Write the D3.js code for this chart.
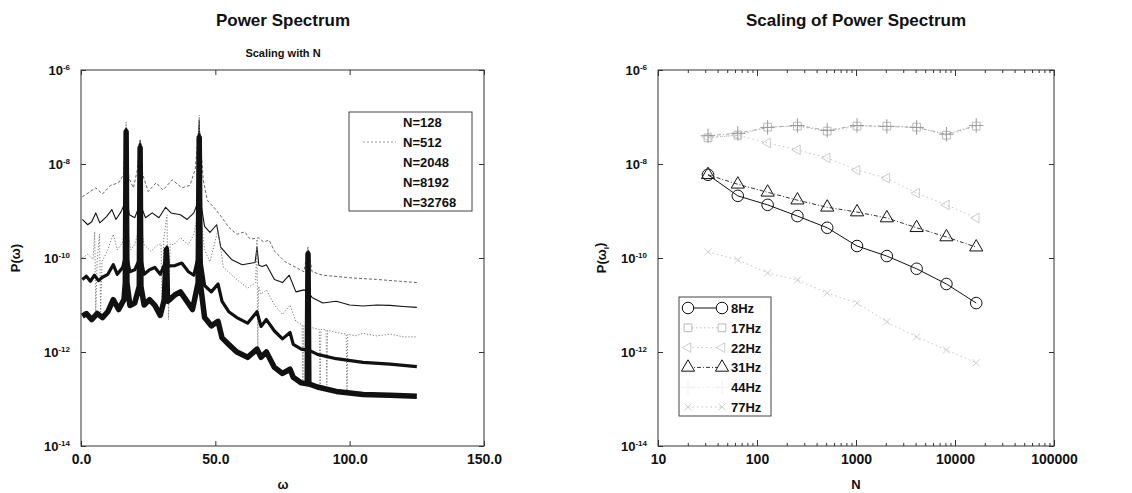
<!DOCTYPE html>
<html>
<head>
<meta charset="utf-8">
<script src="https://cdn.jsdelivr.net/npm/d3@7"></script>
<style>
  body { margin: 0; background: #fff; }
  text { font-family: "Liberation Sans", Arial, Helvetica, sans-serif; font-weight: bold; fill: #111; }
</style>
</head>
<body>
<svg id="chart" width="1132" height="493"></svg>
<script>
// ---- left panel: spectra, [omega, P(omega)] ----
const specN128 = [[0.5,2.0e-9],[3,2.5e-9],[5.5,3.1e-9],[8,2.3e-9],[11,3.5e-9],[14,4.0e-9],[15.8,5.9e-9],[16.8,5.4e-8],[17.8,5.1e-9],[19.5,3.1e-9],[21,7.6e-9],[22,2.6e-8],[23,5.9e-9],[25,2.6e-9],[28,4.0e-9],[30.5,2.8e-9],[34,4.6e-9],[37.5,3.1e-9],[40.5,3.5e-9],[42.5,7.6e-9],[44,6.8e-8],[45.5,4.6e-9],[47,1.7e-9],[50,1.1e-9],[52.5,7.2e-10],[55,4.5e-10],[58,3.2e-10],[61,3.6e-10],[63,2.5e-10],[66,2.7e-10],[68,2.2e-10],[70,2.4e-10],[72,1.4e-10],[76,8.3e-11],[80,6.3e-11],[83,5.1e-11],[84.5,1.7e-10],[86,5.1e-11],[90,4.3e-11],[100,3.8e-11],[110,3.5e-11],[125,3.0e-11]];
const specN512 = [[0.5,6.6e-10],[2.5,5.1e-10],[4,5.9e-10],[5.5,9.1e-10],[7,5.6e-10],[9.5,7.6e-10],[11.5,1.07e-9],[13,6.6e-10],[15,9.8e-10],[16.3,1.5e-9],[16.8,5.9e-8],[17.3,1.5e-9],[18,8.3e-10],[20,7.2e-10],[21.5,1.2e-9],[22,3.2e-8],[22.5,1.2e-9],[24,7.2e-10],[26.5,9.1e-10],[29,7.2e-10],[31.5,1.2e-9],[33.5,9.1e-10],[37,8.3e-10],[39.5,6.6e-10],[42,9.1e-10],[43.4,1.5e-9],[44,8.7e-8],[44.6,1.5e-9],[46,4.7e-10],[48,3.5e-10],[50.5,5.1e-10],[52,1.7e-10],[56,9.3e-11],[60,7.2e-11],[64.8,8e-11],[65.5,1.7e-10],[66.2,7e-11],[67.5,6.6e-11],[69,7.2e-11],[72,3.5e-11],[75,3e-11],[77.5,4.3e-11],[80,1.9e-11],[83,2.1e-11],[84.2,2e-11],[84.5,1.3e-10],[84.8,1.8e-11],[86,1.45e-11],[90,1.1e-11],[95,1.2e-11],[100,1.0e-11],[105,9.5e-12],[110,1.0e-11],[115,9.8e-12],[120,9.3e-12],[125,8.9e-12]];
const specN2048 = [[0.5,1.0e-10],[2.5,1.2e-10],[4.5,9.3e-11],[5.1,3.6e-10],[5.5,7.2e-12],[6,8.3e-11],[6.9,3.2e-10],[7.3,7.2e-12],[7.8,8.3e-11],[10,1.5e-10],[12,3.2e-10],[13.5,1.5e-10],[15.5,2.1e-10],[16.3,4e-10],[16.8,7.9e-8],[17.3,4e-10],[18.5,1.5e-10],[20,1.9e-10],[21.5,4e-10],[22,3.2e-8],[22.5,4e-10],[23.5,1.9e-10],[26,1.4e-10],[28.5,1.9e-10],[29.8,2e-10],[30.2,8e-12],[30.8,2.5e-10],[32,8.3e-10],[32.6,4.9e-12],[33.2,2e-10],[34.5,1.9e-10],[37,2.7e-10],[40,1.9e-10],[42,3.2e-10],[43.4,8e-10],[44,1.1e-7],[44.6,8e-10],[46,1.5e-10],[48,8.3e-11],[51,4e-10],[53,6.3e-11],[58,3.5e-11],[62,2.3e-11],[65,3e-11],[65.5,2.5e-10],[65.8,1.1e-12],[66.1,2.5e-11],[67,1.7e-11],[69,2.1e-11],[72,1.0e-11],[75,6.3e-12],[77.8,1.0e-11],[80,4.5e-12],[82.3,3.8e-12],[82.6,2.2e-13],[82.9,3.6e-12],[84.2,3.5e-12],[84.5,1.2e-10],[84.8,3.4e-12],[86,3.3e-12],[88.7,3e-12],[89,1.5e-13],[89.3,3e-12],[91.2,3e-12],[91.5,2e-13],[91.8,2.9e-12],[95,2.6e-12],[98.7,2.4e-12],[99,1.4e-13],[99.3,2.4e-12],[102,2.2e-12],[105,2.5e-12],[110,2.2e-12],[115,2.4e-12],[120,2.1e-12],[125,2.1e-12]];
const specN8192 = [[0.5,3.5e-11],[2,4.1e-11],[3.5,3.2e-11],[5,4.3e-11],[6.5,3.3e-11],[8,3.9e-11],[10,4.5e-11],[12,7.2e-11],[13.5,4.5e-11],[15.5,6.3e-11],[16.4,1e-10],[16.8,5.4e-8],[17.2,1e-10],[18.2,5.1e-11],[20,5.6e-11],[21.6,9e-11],[22,2.6e-8],[22.4,9e-11],[23.5,4.5e-11],[25.5,5.6e-11],[27.5,6.3e-11],[29.5,4.5e-11],[31.5,8.3e-11],[32,1.7e-10],[32.5,6.8e-11],[35,6.9e-11],[37.5,7.8e-11],[40,5.1e-11],[42,4.3e-11],[43.5,1e-10],[44,4.2e-8],[44.5,1e-10],[46,2.6e-11],[48.5,1.9e-11],[51,2.8e-11],[52.5,1.2e-11],[55,7.2e-12],[58,5.4e-12],[62,4.1e-12],[65.5,7.2e-12],[67,3.5e-12],[69,4.9e-12],[72,2.8e-12],[75,1.9e-12],[77.8,2.6e-12],[79,1.45e-12],[82,1.15e-12],[84.2,1.1e-12],[84.5,1.35e-10],[84.8,1.1e-12],[88,8.9e-13],[95,7.2e-13],[105,6e-13],[115,5.5e-13],[125,4.9e-13]];
const specN32768 = [[0.5,5.8e-12],[2,6.6e-12],[4,4.9e-12],[6,6.6e-12],[8,5.4e-12],[10,7.2e-12],[12,1.3e-11],[14,8e-12],[16,1.3e-11],[16.5,3e-11],[16.8,4.8e-8],[17.1,3e-11],[18.2,9.8e-12],[20,1.1e-11],[21.7,2.5e-11],[22,2.2e-8],[22.3,2.5e-11],[23.5,1.0e-11],[25.5,1.3e-11],[27.5,9.8e-12],[29.5,6e-12],[31,1.3e-11],[31.8,1.5e-10],[32.2,1.2e-11],[33,1.3e-11],[35,1.65e-11],[37,1.9e-11],[39,1.3e-11],[41.5,8e-12],[43.6,3e-11],[44,3.6e-8],[44.4,3e-11],[46,5.4e-12],[48.5,3.6e-12],[51,4.5e-12],[52.5,2e-12],[55,1.45e-12],[58,1.0e-12],[62,7.7e-13],[65.5,1.15e-12],[67,7.7e-13],[69,1.0e-12],[72,4.7e-13],[75,3.5e-13],[77.8,4.3e-13],[79,2.9e-13],[82,2.2e-13],[84.2,2.1e-13],[84.5,1.2e-10],[84.8,2.1e-13],[88,1.8e-13],[95,1.45e-13],[105,1.25e-13],[115,1.2e-13],[125,1.15e-13]];
const specLabels = ["N=128", "N=512", "N=2048", "N=8192", "N=32768"];
const omegaTicks = [0, 50, 100, 150];
const powerTicks = [1e-14, 1e-12, 1e-10, 1e-8, 1e-6];

// ---- right panel: peak power versus N ----
const sizeN = [32, 64, 128, 256, 512, 1024, 2048, 4096, 8192, 16384];
const p8Hz  = [5.9e-9, 2.1e-9, 1.35e-9, 7.8e-10, 4.4e-10, 1.8e-10, 1.1e-10, 5.9e-11, 2.8e-11, 1.1e-11];
const p17Hz = [3.6e-8, 4.1e-8, 6.1e-8, 6.4e-8, 5.0e-8, 6.4e-8, 6.4e-8, 6.1e-8, 4.1e-8, 6.4e-8];
const p22Hz = [3.7e-8, 4.1e-8, 2.8e-8, 2.0e-8, 1.35e-8, 7.4e-9, 5.0e-9, 2.4e-9, 1.35e-9, 7.1e-10];
const p31Hz = [5.9e-9, 3.7e-9, 2.5e-9, 1.7e-9, 1.2e-9, 9.5e-10, 7.1e-10, 4.4e-10, 2.8e-10, 1.7e-10];
const p44Hz = [4.0e-8, 4.5e-8, 6.0e-8, 6.6e-8, 5.2e-8, 6.6e-8, 6.3e-8, 6.0e-8, 4.3e-8, 6.6e-8];
const p77Hz = [1.35e-10, 9.1e-11, 4.8e-11, 3.4e-11, 1.8e-11, 1.1e-11, 4.4e-12, 2.1e-12, 1.1e-12, 5.9e-13];
const freqLabels = ["8Hz", "17Hz", "22Hz", "31Hz", "44Hz", "77Hz"];
const nTicks = [10, 100, 1000, 10000, 100000];

const svg = d3.select("#chart");

// frame box: ticks on all four sides, labels left/bottom
function drawFrame(g, x, y, xAxis, yAxis) {
  const [x0, x1] = x.range(), [y0, y1] = [y.range()[1], y.range()[0]];
  g.append("g").attr("transform", `translate(0,${y1})`).call(xAxis(d3.axisBottom));
  g.append("g").attr("transform", `translate(0,${y0})`).call(xAxis(d3.axisTop)).selectAll("text").remove();
  g.append("g").attr("transform", `translate(${x0},0)`).call(yAxis(d3.axisLeft));
  g.append("g").attr("transform", `translate(${x1},0)`).call(yAxis(d3.axisRight)).selectAll("text").remove();
  g.selectAll(".domain").remove();
  g.selectAll(".tick line").attr("stroke", "#333");
  g.append("rect").attr("x", x0).attr("y", y0).attr("width", x1 - x0).attr("height", y1 - y0)
    .attr("fill", "none").attr("stroke", "#333").attr("stroke-width", 1);
}

function powerLabel(sel) {
  sel.text(null);
  sel.append("tspan").text("10");
  sel.append("tspan").attr("dy", "-0.6em").attr("font-size", "8px").text(d => Math.round(Math.log10(d)));
}

const yAxisFor = y => axis => g => {
  g.call(axis(y).tickValues(powerTicks).tickSize(-5).tickPadding(11));
  g.selectAll(".tick text").attr("font-size", "13px").call(powerLabel);
};

// ---------------- left panel ----------------
const xL = d3.scaleLinear().domain([0, 150]).range([81, 484]);
const yL = d3.scaleLog().domain([1e-14, 1e-6]).range([446, 70]);
const gL = svg.append("g");

gL.append("clipPath").attr("id", "clipL").append("rect")
  .attr("x", 81).attr("y", 70).attr("width", 403).attr("height", 376);

const spectra = [
  { label: specLabels[0], data: specN128, stroke: "#666", width: 1, dash: "3,2" },
  { label: specLabels[1], data: specN512, stroke: "#111", width: 1.1, dash: null },
  { label: specLabels[2], data: specN2048, stroke: "#777", width: 1, dash: "1.2,1.8" },
  { label: specLabels[3], data: specN8192, stroke: "#111", width: 3.2, dash: null },
  { label: specLabels[4], data: specN32768, stroke: "#111", width: 5.5, dash: null }
];

const lineL = d3.line().x(d => xL(d[0])).y(d => yL(d[1]));
gL.append("g").attr("clip-path", "url(#clipL)")
  .selectAll("path").data(spectra).join("path")
  .attr("d", d => lineL(d.data))
  .attr("fill", "none")
  .attr("stroke", d => d.stroke)
  .attr("stroke-width", d => d.width)
  .attr("stroke-dasharray", d => d.dash)
  .attr("stroke-linejoin", "round");

drawFrame(gL, xL, yL,
  axis => g => {
    g.call(axis(xL).tickValues(omegaTicks).tickSize(-5).tickPadding(8).tickFormat(d3.format(".1f")));
    g.selectAll(".tick text").attr("font-size", "14px");
  },
  yAxisFor(yL));

gL.append("text").attr("x", 283).attr("y", 26).attr("text-anchor", "middle")
  .attr("font-size", "17px").text("Power Spectrum");
gL.append("text").attr("x", 283).attr("y", 57).attr("text-anchor", "middle")
  .attr("font-size", "11px").text("Scaling with N");
gL.append("text").attr("x", 283).attr("y", 489).attr("text-anchor", "middle")
  .attr("font-size", "13px").text("ω");
gL.append("text").attr("transform", "translate(20,258) rotate(-90)").attr("text-anchor", "middle")
  .attr("font-size", "13px").text("P(ω)");

// legend (only the N=512 sample survives in the original print)
const legL = gL.append("g");
legL.append("rect").attr("x", 349).attr("y", 112).attr("width", 123).attr("height", 99)
  .attr("fill", "#fff").attr("stroke", "#444");
const legRow = d3.scalePoint().domain(specLabels).range([122, 202]);
legL.selectAll("text").data(spectra).join("text")
  .attr("x", 403).attr("y", d => legRow(d.label) + 5)
  .attr("font-size", "13px").text(d => d.label);
legL.append("line").attr("x1", 363).attr("x2", 396)
  .attr("y1", legRow(specLabels[1])).attr("y2", legRow(specLabels[1]))
  .attr("stroke", "#999").attr("stroke-dasharray", "2,2");

// ---------------- right panel ----------------
const xR = d3.scaleLog().domain([10, 100000]).range([658, 1054]);
const yR = d3.scaleLog().domain([1e-14, 1e-6]).range([446, 70]);
const gR = svg.append("g");

const minorN = d3.range(1, 5).flatMap(e => d3.range(2, 10).map(m => m * Math.pow(10, e)));

drawFrame(gR, xR, yR,
  axis => g => {
    g.call(axis(xR).tickValues(nTicks).tickSize(-6).tickPadding(8).tickFormat(d3.format("d")));
    g.selectAll(".tick text").attr("font-size", "14px");
    g.append("g").call(axis(xR).tickValues(minorN).tickSize(-3).tickFormat(""))
      .selectAll(".tick line").attr("stroke", "#333");
  },
  yAxisFor(yR));

const sym = (type, size, rot) => ({ path: d3.symbol().type(type).size(size)(), rot: rot || 0 });
const plusType = d3.symbolPlus || d3.symbolCross;
const timesType = d3.symbolTimes || d3.symbolX || d3.symbolCross;

const freqSeries = [
  { label: freqLabels[0], values: p8Hz,  stroke: "#111", dash: null, marker: sym(d3.symbolCircle, 105), mk: "#111" },
  { label: freqLabels[1], values: p17Hz, stroke: "#bbb", dash: "1.5,2.5", marker: sym(d3.symbolSquare, 60), mk: "#bbb" },
  { label: freqLabels[2], values: p22Hz, stroke: "#c4c4c4", dash: "1.5,3", marker: sym(d3.symbolTriangle, 40, -90), mk: "#ccc" },
  { label: freqLabels[3], values: p31Hz, stroke: "#333", dash: "4,2,1,2", marker: sym(d3.symbolTriangle, 75), mk: "#111" },
  { label: freqLabels[4], values: p44Hz, stroke: "#aaa", dash: "4,2,1,2", marker: sym(plusType, 70), mk: "#999" },
  { label: freqLabels[5], values: p77Hz, stroke: "#c4c4c4", dash: "1.5,3", marker: sym(timesType, 35), mk: "#d0d0d0" }
];

const lineR = d3.line().x(d => xR(d[0])).y(d => yR(d[1]));
const series = gR.append("g").selectAll("g").data(freqSeries).join("g");
series.append("path")
  .attr("d", s => lineR(sizeN.map((n, i) => [n, s.values[i]])))
  .attr("fill", "none").attr("stroke", s => s.stroke).attr("stroke-width", 1)
  .attr("stroke-dasharray", s => s.dash);
series.selectAll("path.mk").data(s => sizeN.map((n, i) => ({ n, v: s.values[i], s }))).join("path")
  .attr("class", "mk")
  .attr("d", d => d.s.marker.path)
  .attr("transform", d => `translate(${xR(d.n)},${yR(d.v)}) rotate(${d.s.marker.rot})`)
  .attr("fill", "none").attr("stroke", d => d.s.mk).attr("stroke-width", 1);

gR.append("text").attr("x", 856).attr("y", 26).attr("text-anchor", "middle")
  .attr("font-size", "17px").text("Scaling of Power Spectrum");
gR.append("text").attr("x", 856).attr("y", 489).attr("text-anchor", "middle")
  .attr("font-size", "13px").text("N");
const yLab = gR.append("text").attr("transform", "translate(606,258) rotate(-90)")
  .attr("text-anchor", "middle").attr("font-size", "13px");
yLab.append("tspan").text("P(ω");
yLab.append("tspan").attr("font-size", "8px").attr("dy", "0.35em").text("i");
yLab.append("tspan").attr("dy", "-0.35em").text(")");

// legend
const legR = gR.append("g");
legR.append("rect").attr("x", 679).attr("y", 297).attr("width", 92).attr("height", 119)
  .attr("fill", "#fff").attr("stroke", "#444");
const legRowR = d3.scalePoint().domain(freqLabels).range([308, 407]);
const rows = legR.selectAll("g").data(freqSeries).join("g")
  .attr("transform", s => `translate(0,${legRowR(s.label)})`);
rows.append("line").attr("x1", 688).attr("x2", 722)
  .attr("stroke", s => s.label === "44Hz" ? "#f0f0f0" : s.stroke).attr("stroke-dasharray", s => s.dash);
rows.selectAll("path").data(s => [688, 722].map(x => ({ x, s }))).join("path")
  .attr("d", d => d.s.marker.path)
  .attr("transform", d => `translate(${d.x},0) rotate(${d.s.marker.rot})`)
  .attr("fill", "#fff").attr("stroke", d => d.s.label === "44Hz" ? "#f0f0f0" : d.s.mk);
rows.append("text").attr("x", 731).attr("y", 5).attr("font-size", "13px").text(s => s.label);
</script>
</body>
</html>
